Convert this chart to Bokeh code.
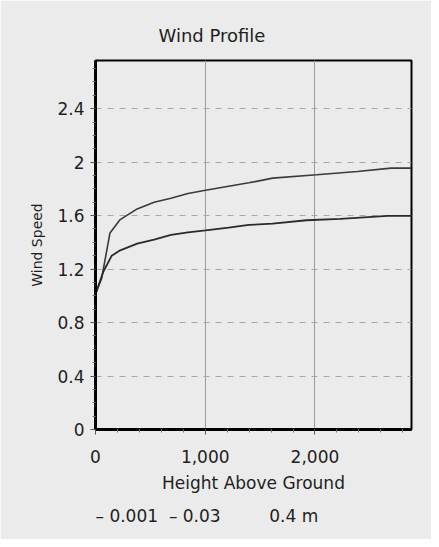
from bokeh.plotting import figure
from bokeh.models import (Range1d, FixedTicker, NumeralTickFormatter, Title)
from bokeh.embed import file_html
from bokeh.resources import INLINE

# ---- data ----
upper_x = [3, 56, 132, 225, 380, 534, 688, 843, 1003, 1213, 1398, 1614, 2016, 2386, 2694, 2880]
upper_v = [1.02, 1.13, 1.47, 1.57, 1.65, 1.70, 1.73, 1.765, 1.79, 1.82, 1.845, 1.88, 1.905, 1.93, 1.955, 1.955]
lower_x = [3, 71, 148, 225, 380, 534, 688, 843, 1003, 1213, 1398, 1614, 1923, 2231, 2664, 2880]
lower_v = [1.02, 1.18, 1.30, 1.34, 1.39, 1.42, 1.455, 1.475, 1.49, 1.51, 1.53, 1.54, 1.565, 1.575, 1.598, 1.598]
series_labels = ["0.001", "0.03", "0.4 m"]
y_ticks = [0, 0.4, 0.8, 1.2, 1.6, 2.0, 2.4]
x_ticks = [0, 1000, 2000]

FONT = "DejaVu Sans"
BG = "#ebebeb"
INK = "#1e1e1e"
NB = "\u00a0"

p = figure(width=431, height=539, output_backend="svg", toolbar_location=None,
           x_range=Range1d(0, 2880), y_range=Range1d(0, 2.76),
           min_border_left=95, min_border_right=20, min_border_top=60, min_border_bottom=110)
p.background_fill_color = BG
p.border_fill_color = BG
p.outline_line_color = "black"
p.outline_line_width = 2

t = Title(text="Wind Profile", align="left", offset=63, text_font=FONT,
          text_font_size="18px", text_font_style="normal", text_color=INK, standoff=30)
p.add_layout(t, "above")

r1 = p.line(upper_x, upper_v, line_color="#3a3a3a", line_width=1.6)
r2 = p.line(lower_x, lower_v, line_color="#2a2a2a", line_width=1.8)

# axes
p.xaxis.ticker = FixedTicker(ticks=x_ticks, minor_ticks=[200, 400, 600, 800, 1200, 1400, 1600, 1800, 2200, 2400, 2600, 2800])
p.xaxis.formatter = NumeralTickFormatter(format="0,0")
p.yaxis.ticker = FixedTicker(ticks=y_ticks, minor_ticks=[0.1, 0.2, 0.3, 0.5, 0.6, 0.7, 0.9, 1.0, 1.1, 1.3, 1.4, 1.5, 1.7, 1.8, 1.9, 2.1, 2.2, 2.3, 2.5, 2.6, 2.7])
p.yaxis.formatter = NumeralTickFormatter(format="0.[0]")
for ax in (p.xaxis[0], p.yaxis[0]):
    ax.axis_line_width = 3
    ax.axis_line_color = "black"
    ax.major_tick_line_color = "#555555"
    ax.minor_tick_line_color = "#777777"
    ax.major_tick_out = 5
    ax.major_tick_in = 0
    ax.minor_tick_out = 3
    ax.minor_tick_in = 0
    ax.major_label_text_font = FONT
    ax.major_label_text_font_size = "17px"
    ax.major_label_text_color = INK
    ax.axis_label_text_font = FONT
    ax.axis_label_text_font_style = "normal"
    ax.axis_label_text_color = INK

p.xaxis.axis_label = "Height Above Ground"
p.xaxis.axis_label_text_font_size = "17px"
p.xaxis.major_label_standoff = 15
p.xaxis.axis_label_standoff = 7
p.yaxis.axis_label = "Wind Speed"
p.yaxis.axis_label_text_font_size = "14px"
p.yaxis.major_label_standoff = 6
p.yaxis.axis_label_standoff = 9

# grid
p.xgrid.ticker = FixedTicker(ticks=[1000, 2000])
p.xgrid.grid_line_color = "#9a9a9a"
p.xgrid.grid_line_width = 1
p.ygrid.ticker = FixedTicker(ticks=[0.4, 0.8, 1.2, 1.6, 2.0, 2.4])
p.ygrid.grid_line_color = "#a8a8a8"
p.ygrid.grid_line_dash = "6 6"
p.ygrid.grid_line_width = 1

# legend line below the axis (series keys)
legend_text = ("\u2013" + NB + series_labels[0] + NB * 2 + "\u2013" + NB + series_labels[1]
               + NB * 9 + series_labels[2])
lt = Title(text=legend_text, align="left", offset=0, text_font=FONT,
           text_font_size="17px", text_font_style="normal", text_color=INK, standoff=17)
p.add_layout(lt, "below")

open("out.html", "w").write(file_html(p, INLINE))
